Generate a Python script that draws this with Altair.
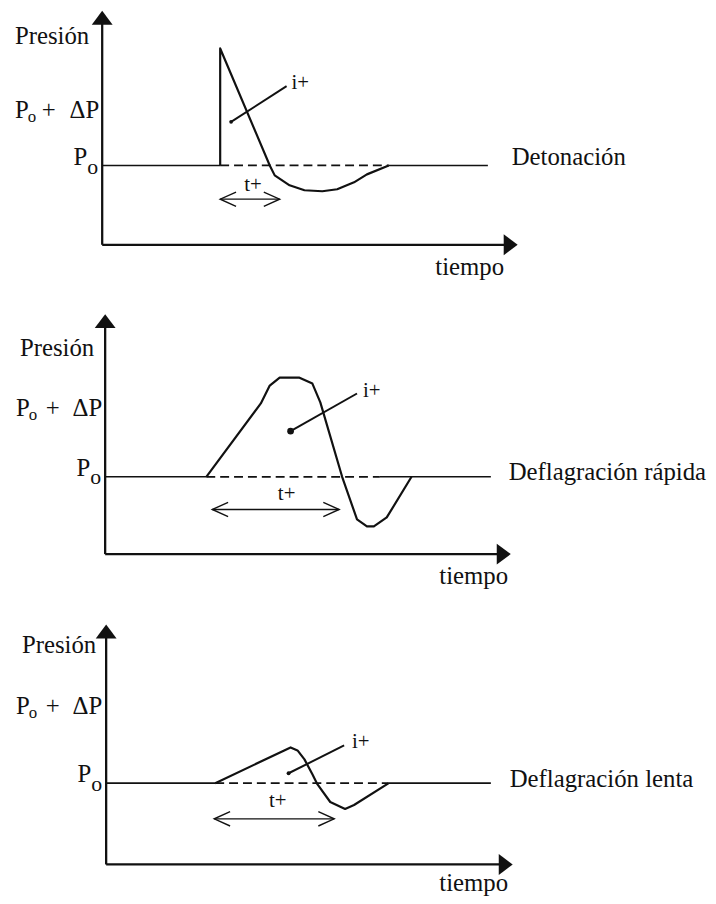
import altair as alt
import pandas as pd

FONT = "Liberation Serif, Times New Roman, serif"
INK = "#111111"

# ---------------- data (time t from pressure axis, pressure p above Po) -------------
panel_names = ["Detonación", "Deflagración rápida", "Deflagración lenta"]
origin_x = [103, 106, 107]       # page position of each panel's pressure axis
baseline_y = [163, 477, 786]     # page position of each panel's Po level

det_t = [119, 119, 169, 174, 189, 204, 222, 237, 254, 267, 289]
det_p = [0, 118, 0, -10, -20, -25, -26, -24, -17, -9, 0]
rap_t = [102, 157, 166, 176, 196, 209, 217, 239, 254, 264, 271, 284, 309]
rap_p = [0, 74, 92, 100, 100, 94, 75, 0, -43, -50, -50, -41, 0]
len_t = [110, 186, 193, 200, 208, 213, 226, 241, 250, 285]
len_p = [0, 36, 33, 24, 9, -1, -19, -26, -22, 0]
curves_t = [det_t, rap_t, len_t]
curves_p = [det_p, rap_p, len_p]

xaxis_p = [-80, -78, -82]
yaxis_tip_p = [156, 164, 160]
xaxis_tip_t = [419, 409, 410]
po_line_end_t = [389, 389, 388]
dash_start_t = [119, 102, 110]
dash_end_t = [289, 277, 285]

iplus_dot_t = [130, 187, 184]
iplus_dot_p = [44, 46, 10]
iplus_end_t = [186, 254, 240]
iplus_end_p = [80, 84, 38]
iplus_text_t = [191, 260, 248]
iplus_text_p = [83, 86, 41]
dot_size = [14, 45, 16]

tplus_left_t = [119, 108, 109]
tplus_right_t = [179, 236, 230]
tplus_p = [-34, -33, -36]
tplus_text_t = [152, 183, 173]
tplus_text_p = [-20, -17, -18]

name_t = [413, 407, 407]
name_p = [8, 5, 4]
tiempo_t = [336, 337, 336]
tiempo_p = [-102, -100, -101]
presion_t = [-88, -86, -85]
presion_p = [130, 130, 139]
pdp_left_t = [-88, -90, -91]
pdp_sub_t = [-75, -77, -78]
pdp_plus_t = [-54, -53, -54]
pdp_right_t = [-3, -3, -4]
pdp_p = [56, 69, 78]
po_t = [-15, -15, -15]
po_P_p = [8, 9, 9]
po_o_p = [-2, 0, -1]

# ---------------- build tables --------------------------------------------------
line_rows, mark_rows, chev_rows, text_rows = [], [], [], []


def X(k, t):
    return origin_x[k] + t


def Y(k, p):
    return baseline_y[k] - p


def add_line(kind, gid, k, ts, ps):
    for i, (t, p) in enumerate(zip(ts, ps)):
        line_rows.append({"kind": kind, "gid": gid, "ord": i, "X": X(k, t), "Y": Y(k, p)})


def add_text(k, t, p, text, fs, align):
    text_rows.append({"X": X(k, t), "Y": Y(k, p), "text": text, "fs": fs, "align": align})


UP = "M -1 0.67 L 0 -0.67 L 1 0.67 Z"
RIGHT = "M -0.67 -1 L 0.67 0 L -0.67 1 Z"
LCHEV = "M 1 -0.9 L -1 0 L 1 0.9"
RCHEV = "M -1 -0.9 L 1 0 L -1 0.9"

for k in range(3):
    add_line("axis", f"ya{k}", k, [0, 0], [xaxis_p[k], yaxis_tip_p[k] - 8])
    add_line("axis", f"xa{k}", k, [0, xaxis_tip_t[k] - 8], [xaxis_p[k], xaxis_p[k]])
    add_line("base", f"b1{k}", k, [0, dash_start_t[k]], [0, 0])
    add_line("base", f"b2{k}", k, [dash_end_t[k], po_line_end_t[k]], [0, 0])
    add_line("dash", f"d{k}", k, [dash_start_t[k], dash_end_t[k]], [0, 0])
    add_line("curve", f"c{k}", k, curves_t[k], curves_p[k])
    add_line("pointer", f"i{k}", k, [iplus_dot_t[k], iplus_end_t[k]],
             [iplus_dot_p[k], iplus_end_p[k]])
    add_line("span", f"s{k}", k, [tplus_left_t[k], tplus_right_t[k]],
             [tplus_p[k], tplus_p[k]])

    mark_rows.append({"X": X(k, 0), "Y": Y(k, yaxis_tip_p[k] - 7), "shape": UP, "size": 441})
    mark_rows.append({"X": X(k, xaxis_tip_t[k] - 7), "Y": Y(k, xaxis_p[k]), "shape": RIGHT, "size": 441})
    mark_rows.append({"X": X(k, iplus_dot_t[k]), "Y": Y(k, iplus_dot_p[k]), "shape": "circle",
                      "size": dot_size[k]})
    chev_rows.append({"X": X(k, tplus_left_t[k] + 8), "Y": Y(k, tplus_p[k]), "shape": LCHEV, "size": 256})
    chev_rows.append({"X": X(k, tplus_right_t[k] - 8), "Y": Y(k, tplus_p[k]), "shape": RCHEV, "size": 256})

    add_text(k, name_t[k], name_p[k], panel_names[k], 25, "left")
    add_text(k, tiempo_t[k], tiempo_p[k], "tiempo", 25, "left")
    add_text(k, presion_t[k], presion_p[k], "Presión", 25, "left")
    add_text(k, pdp_left_t[k], pdp_p[k], "P", 25, "left")
    add_text(k, pdp_sub_t[k], pdp_p[k] - 7, "o", 17, "left")
    add_text(k, pdp_plus_t[k], pdp_p[k], "+", 25, "center")
    add_text(k, pdp_right_t[k], pdp_p[k], "ΔP", 25, "right")
    add_text(k, po_t[k], po_P_p[k], "P", 25, "right")
    add_text(k, po_t[k], po_o_p[k], "o", 22, "left")
    add_text(k, iplus_text_t[k], iplus_text_p[k], "i+", 21, "left")
    add_text(k, tplus_text_t[k], tplus_text_p[k], "t+", 21, "center")

lines = pd.DataFrame(line_rows)
marks = pd.DataFrame(mark_rows)
chevs = pd.DataFrame(chev_rows)
texts = pd.DataFrame(text_rows)

# ---------------- chart -----------------------------------------------------------
W, H = 706, 888
xs = alt.Scale(domain=[8, 8 + W], nice=False, zero=False)
ys = alt.Scale(domain=[8, 8 + H], nice=False, zero=False, reverse=True)
xe = alt.X("X:Q", scale=xs, axis=None)
ye = alt.Y("Y:Q", scale=ys, axis=None)

styles = {
    "axis": dict(strokeWidth=2.3),
    "base": dict(strokeWidth=1.6),
    "dash": dict(strokeWidth=1.7, strokeDash=[9, 5]),
    "curve": dict(strokeWidth=2.2, strokeJoin="round"),
    "pointer": dict(strokeWidth=2.0),
    "span": dict(strokeWidth=1.4),
}

layers = []
for kind, st in styles.items():
    layers.append(
        alt.Chart(lines[lines["kind"] == kind]).mark_line(color=INK, **st).encode(
            x=xe, y=ye, detail="gid:N", order=alt.Order("ord:Q")
        )
    )

layers.append(
    alt.Chart(marks).mark_point(filled=True, color=INK, opacity=1, strokeWidth=0).encode(
        x=xe, y=ye,
        shape=alt.Shape("shape:N", scale=None),
        size=alt.Size("size:Q", scale=None),
    )
)
layers.append(
    alt.Chart(chevs).mark_point(filled=False, color=INK, opacity=1, strokeWidth=1.4).encode(
        x=xe, y=ye,
        shape=alt.Shape("shape:N", scale=None),
        size=alt.Size("size:Q", scale=None),
    )
)
for al in ["left", "right", "center"]:
    layers.append(
        alt.Chart(texts[texts["align"] == al]).mark_text(
            align=al, baseline="middle", font=FONT, color=INK
        ).encode(
            x=xe, y=ye, text="text:N", size=alt.Size("fs:Q", scale=None)
        )
    )

chart = alt.layer(*layers).properties(
    width=W, height=H, padding=0,
    autosize=alt.AutoSizeParams(type="none"),
).configure_view(stroke=None)

chart.save("out.html", embed_options={"renderer": "svg", "actions": False})
